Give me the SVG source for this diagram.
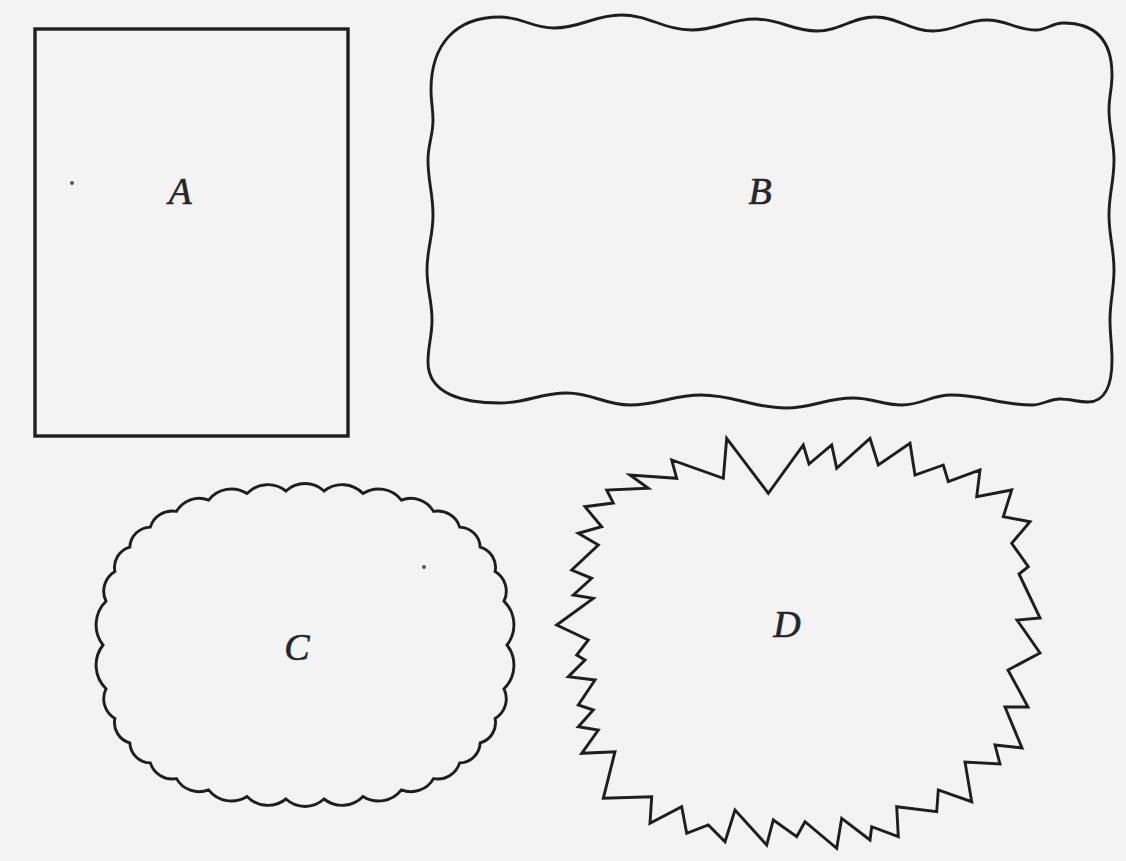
<svg xmlns="http://www.w3.org/2000/svg" width="1126" height="861" viewBox="0 0 1126 861">
<style>
.shape{fill:none;stroke:#1e1e1e;stroke-width:2.9;stroke-linejoin:miter;stroke-miterlimit:10}
.lbl{font-family:"Liberation Serif","DejaVu Serif",serif;font-style:italic;font-size:38px;fill:#262626;stroke:#262626;stroke-width:0.6;text-anchor:middle}
.speck{fill:#555}
</style>
<rect x="0" y="0" width="1126" height="861" fill="#f3f3f3"/>
<g id="A">
<rect class="shape" x="35" y="29" width="313" height="407" style="stroke-width:3.4"/>
<circle class="speck" cx="72" cy="183" r="2"/>
<text class="lbl" x="180" y="204">A</text>
</g>
<g id="B">
<path class="shape" d="M431,90 C431,45 455,17 500,17 C522,17 532,28 554,28 C581,28 594,15 621,15 C649,15 664,30 692,30 C717,30 730,19 755,19 C780,19 792,31 817,31 C840,31 852,17 875,17 C898,17 910,31 933,31 C955,31 965,20 987,20 C1007,20 1016,30 1036,30 C1047,30 1052,23 1063,23 C1095,23 1112,40 1112,75 C1112,89 1109,96 1109,110 C1109,130 1114,140 1114,160 C1114,182 1109,193 1109,215 C1109,237 1114,248 1114,270 C1114,290 1110,300 1110,320 C1110,336 1112,344 1112,360 C1112,385 1105,402 1088,402 C1077,402 1071,399 1060,399 C1049,399 1043,405 1032,405 C1000,405 983,395 951,395 C931,395 922,405 902,405 C882,405 873,398 853,398 C826,398 813,408 786,408 C752,408 735,395 701,395 C673,395 658,405 630,405 C605,405 592,393 567,393 C540,393 527,403 500,403 C465,403 428,395 428,362 C428,345 432,337 432,320 C432,300 427,290 427,270 C427,248 433,237 433,215 C433,193 428,182 428,160 C428,144 433,136 433,120 C433,108 431,102 431,90 Z"/>
<text class="lbl" x="760" y="204">B</text>
</g>
<g id="C">
<path class="shape" d="M507,645 A33,33 0 0 1 504,688.8 A23,23 0 0 1 495.1,718.5 A21,21 0 0 1 480.2,742.9 A21,21 0 0 1 459.7,762.9 A23,23 0 0 1 433.5,778.6 A26,26 0 0 1 401.4,789.9 A29,29 0 0 1 363,796.5 A29,29 0 0 1 324,799 A28,28 0 0 1 286,799 A29,29 0 0 1 247,796.5 A29,29 0 0 1 208.6,789.9 A26,26 0 0 1 176.5,778.6 A23,23 0 0 1 150.3,762.9 A21,21 0 0 1 129.8,742.9 A21,21 0 0 1 114.9,718.5 A23,23 0 0 1 106,688.8 A33,33 0 0 1 103,645 A33,33 0 0 1 106,601.2 A23,23 0 0 1 114.9,571.5 A21,21 0 0 1 129.8,547.1 A21,21 0 0 1 150.3,527.1 A23,23 0 0 1 176.5,511.4 A26,26 0 0 1 208.6,500.1 A29,29 0 0 1 247,493.5 A29,29 0 0 1 286,491 A28,28 0 0 1 324,491 A29,29 0 0 1 363,493.5 A29,29 0 0 1 401.4,500.1 A26,26 0 0 1 433.5,511.4 A23,23 0 0 1 459.7,527.1 A21,21 0 0 1 480.2,547.1 A21,21 0 0 1 495.1,571.5 A23,23 0 0 1 504,601.2 A33,33 0 0 1 507,645 Z"/>
<circle class="speck" cx="424" cy="567" r="2"/>
<text class="lbl" x="297" y="660">C</text>
</g>
<g id="D">
<polygon class="shape" points="556.7,625 593.3,598.3 573.3,595 591.7,578.3 571.7,570 598.3,545 578.3,533.3 601.7,526.7 585,506.7 613.3,503 606.7,490 648.3,488.3 630,475 676.7,478.3 671.7,460 723.3,478.3 726.7,438.3 768.3,493.3 803.3,445 809,464 831.7,445 836.7,468.3 870,438.3 878.3,465 910,443.3 915,475 943.3,465 948.3,481.7 980,470 976.7,496.7 1011.7,490 1003.3,516.7 1030,521.7 1011.7,543.3 1028.3,566.7 1019,574 1030,597 1040,618 1017,620 1040,653 1008,670 1028,707 1005,707 1022,748 995,745 1000,764 965,762 971.7,801.7 938.3,790 936.7,811.7 896.7,806.7 898.3,836.7 871.7,826.7 870,840 841.7,818.3 836.7,848.3 805,821.7 796.7,836.7 773.3,820 766.7,845 735,810 725,841.7 708.3,825 686.7,833.3 681.7,806.7 650,823.3 651.7,796.7 603.3,798.3 615,751.7 581.7,753.3 598.3,730 578.3,726.7 593.3,710 578.3,705 595,680 568.3,676.7 585,660 576.7,655 588.3,640"/>
<text class="lbl" x="787" y="637">D</text>
</g>
<g id="connectors"/>
</svg>
